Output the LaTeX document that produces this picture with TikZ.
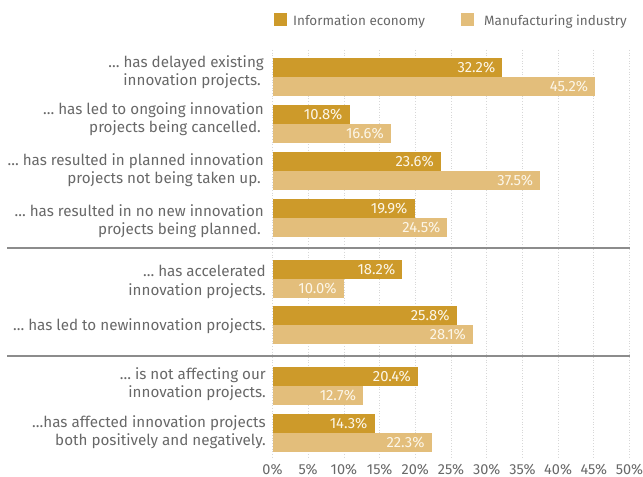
\documentclass[tikz,border=0pt]{standalone}
\usepackage{fontspec}
\setmainfont{Fira Sans}
\definecolor{darkbar}{RGB}{205,154,42}
\definecolor{lightbar}{RGB}{227,190,123}
\definecolor{txtgrey}{RGB}{104,104,104}
\definecolor{valwhite}{RGB}{252,246,232}
\definecolor{sepgrey}{RGB}{140,140,140}
\definecolor{gridgrey}{RGB}{215,215,215}
\tikzset{
  barD/.style={fill=darkbar, draw=none, minimum height=19bp, inner sep=0pt, outer sep=0pt},
  barL/.style={fill=lightbar, draw=none, minimum height=19bp, inner sep=0pt, outer sep=0pt},
  valtxt/.style={text=valwhite, font=\fontsize{14.8bp}{16bp}\selectfont, inner sep=0pt, anchor=east},
  cattxt/.style={text=txtgrey, font=\fontsize{15.2bp}{18.5bp}\selectfont, align=right, inner sep=0pt, anchor=east},
  axtxt/.style={text=txtgrey, font=\fontsize{14.5bp}{16bp}\selectfont, inner sep=0pt},
  legsq/.style={minimum size=13bp, inner sep=0pt, draw=none, anchor=north west},
  legtxt/.style={text=txtgrey, font=\fontsize{13.5bp}{16bp}\selectfont, inner sep=0pt, anchor=base west},
  gridln/.style={gridgrey, dotted, line width=0.7bp},
  sepln/.style={sepgrey, line width=1.2bp}
}
\begin{document}
\begin{tikzpicture}[x=1bp, y=-1bp]
\useasboundingbox (0,0) rectangle (643,477);
% grid lines and axis labels
\foreach \k in {0,...,10} {
  \pgfmathsetmacro\gx{272.5+\k*35.7}
  \pgfmathtruncatemacro\pct{\k*5}
  \draw[gridln] (\gx,50) -- (\gx,457);
  \node[axtxt, anchor=base] (ax\k) at (\gx,474) {\pct\%};
}
% legend
\node[legsq, fill=darkbar] (legD) at (274,13) {};
\node[legtxt] (legDt) at (293,25.5) {Information economy};
\node[legsq, fill=lightbar] (legL) at (461,13) {};
\node[legtxt] (legLt) at (484,25.5) {Manufacturing industry};
% bars
\foreach \i/\y/\a/\b in {1/58/32.2/45.2, 2/105/10.8/16.6, 3/152/23.6/37.5, 4/199/19.9/24.5, 5/260/18.2/10.0, 6/306/25.8/28.1, 7/367/20.4/12.7, 8/414/14.3/22.3} {
  \node[barD, minimum width={\a*7.14bp}, anchor=north west] (d\i) at (272.5,\y) {};
  \node[valtxt] (dv\i) at ([xshift=-7bp]d\i.east) {\a\%};
  \node[barL, minimum width={\b*7.14bp}, anchor=north west] (l\i) at (272.5,\y+19) {};
  \node[valtxt] (lv\i) at ([xshift=-7bp]l\i.east) {\b\%};
}
% separators
\coordinate (s1a) at (7,248); \coordinate (s1b) at (630,248);
\coordinate (s2a) at (7,356); \coordinate (s2b) at (630,356);
\draw[sepln] (s1a) -- (s1b);
\draw[sepln] (s2a) -- (s2b);
% category labels
\node[cattxt] (c1) at (264,72) {… has delayed existing\\innovation projects.\hspace*{3bp}};
\node[cattxt] (c2) at (264,119) {… has led to ongoing innovation\\projects being cancelled.\hspace*{3bp}};
\node[cattxt] (c3) at (264,170) {… has resulted in planned innovation\\projects not being taken up.\hspace*{3bp}};
\node[cattxt] (c4) at (264,221) {… has resulted in no new innovation\\projects being planned.\hspace*{3bp}};
\node[cattxt] (c5) at (266,282) {… has accelerated\\innovation projects.};
\node[cattxt] (c6) at (266,326) {… has led to newinnovation projects.};
\node[cattxt] (c7) at (266,384) {… is not affecting our\\innovation projects.};
\node[cattxt] (c8) at (266,432) {…has affected innovation projects\\both positively and negatively.};
\end{tikzpicture}
\end{document}
